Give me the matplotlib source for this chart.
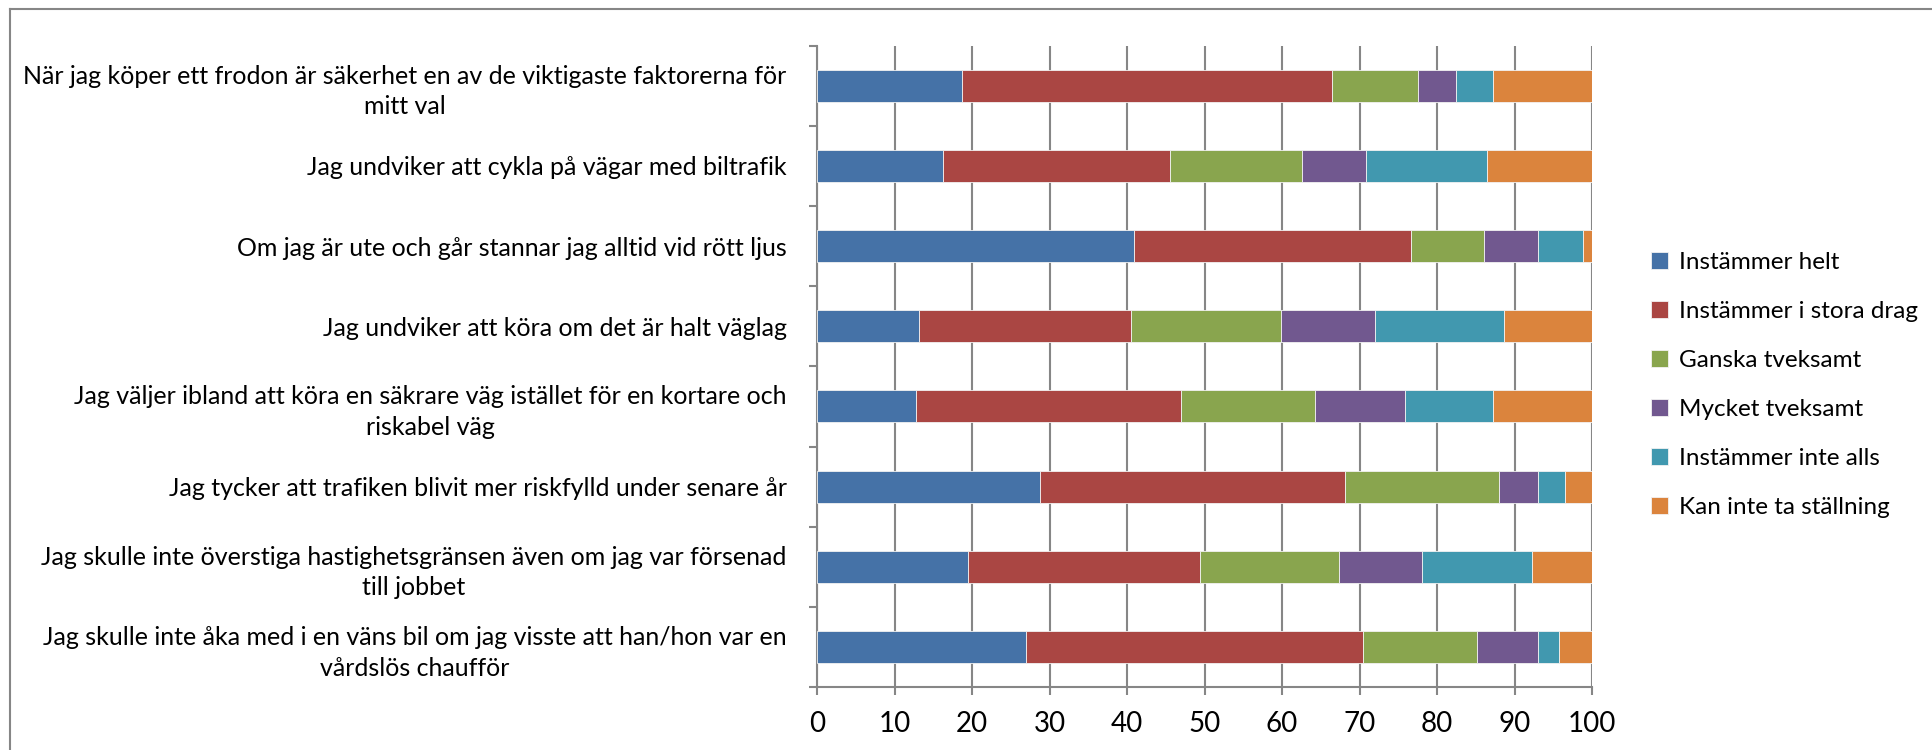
import numpy as np
import matplotlib
matplotlib.use("Agg")
import matplotlib.pyplot as plt
from matplotlib.lines import Line2D

plt.rcParams["font.family"] = ["Lato", "DejaVu Sans"]

# påståenden (uppifrån och ned)
statements = [
    "När jag köper ett frodon är säkerhet en av de viktigaste faktorerna för\nmitt val",
    "Jag undviker att cykla på vägar med biltrafik",
    "Om jag är ute och går stannar jag alltid vid rött ljus",
    "Jag undviker att köra om det är halt väglag",
    "Jag väljer ibland att köra en säkrare väg istället för en kortare och\nriskabel väg",
    "Jag tycker att trafiken blivit mer riskfylld under senare år",
    "Jag skulle inte överstiga hastighetsgränsen även om jag var försenad\ntill jobbet",
    "Jag skulle inte åka med i en väns bil om jag visste att han/hon var en\nvårdslös chaufför",
]
answers = ["Instämmer helt", "Instämmer i stora drag", "Ganska tveksamt",
           "Mycket tveksamt", "Instämmer inte alls", "Kan inte ta ställning"]

# procent per svarsalternativ
instammer_helt = [18.7, 16.3, 40.9, 13.2, 12.8, 28.8, 19.5, 26.9]
stora_drag = [47.8, 29.2, 35.7, 27.3, 34.2, 39.3, 29.9, 43.5]
ganska_tveksamt = [11.0, 17.1, 9.4, 19.4, 17.2, 19.9, 18.0, 14.8]
mycket_tveksamt = [4.9, 8.2, 7.0, 12.1, 11.7, 5.0, 10.7, 7.8]
inte_alls = [4.8, 15.6, 5.8, 16.7, 11.3, 3.5, 14.1, 2.7]
kan_inte = [12.8, 13.6, 1.2, 11.3, 12.8, 3.5, 7.8, 4.3]

colors = ["#4572A7", "#AA4643", "#89A54E", "#71588F", "#4198AF", "#DB843D"]
series = [instammer_helt, stora_drag, ganska_tveksamt, mycket_tveksamt, inte_alls, kan_inte]

fig = plt.figure(figsize=(19.33, 7.5), dpi=100)
ax = fig.add_axes([0.4227, 0.084, 0.4009, 0.855])

y = np.arange(len(statements))
left = np.zeros(len(statements))
for vals, c, name in zip(series, colors, answers):
    ax.barh(y, vals, left=left, height=0.4, color=c, label=name,
            edgecolor="#f2f2f2", linewidth=0.6, zorder=3)
    left += np.array(vals)

ax.set_xlim(0, 100)
ax.set_ylim(len(statements) - 0.5, -0.5)
ax.set_xticks(np.arange(0, 101, 10))
ax.xaxis.grid(True, color="#868686", linewidth=1.5, zorder=0)
ax.set_yticks(np.arange(-0.5, len(statements), 1))
ax.set_yticklabels([])
ax.set_yticks(y, minor=True)
ax.set_yticklabels(statements, minor=True, ha="right", ma="center", fontsize=18,
                   linespacing=1.4)
ax.tick_params(axis="y", which="minor", length=0, pad=22)
ax.tick_params(axis="y", which="major", length=6, width=1.5, color="#868686")
ax.tick_params(axis="x", length=6, width=1.5, color="#868686", labelsize=20, pad=11)
for s in ["top", "right"]:
    ax.spines[s].set_visible(False)
for s in ["left", "bottom"]:
    ax.spines[s].set_color("#868686")
    ax.spines[s].set_linewidth(1.5)

leg = fig.legend(loc="center left", bbox_to_anchor=(0.843, 0.487), frameon=False,
                 fontsize=17.5, handlelength=0.7, handleheight=0.7,
                 labelspacing=1.15, handletextpad=0.45)

# ram runt diagramytan
fig.add_artist(Line2D([10 / 1933, 10 / 1933], [0, 1 - 9 / 750], transform=fig.transFigure,
                      color="#868686", linewidth=1.5))
fig.add_artist(Line2D([10 / 1933, 1], [1 - 9 / 750, 1 - 9 / 750], transform=fig.transFigure,
                      color="#868686", linewidth=1.5))

fig.savefig("out.png", dpi=100)
